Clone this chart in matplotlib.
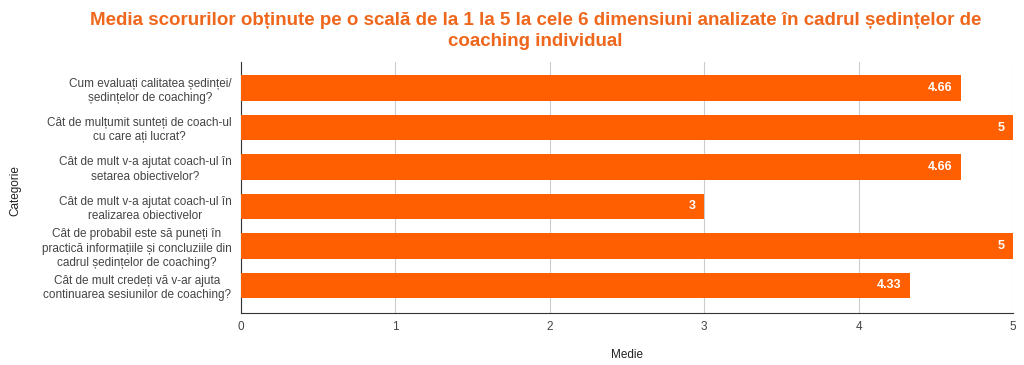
import matplotlib.pyplot as plt
import numpy as np

plt.rcParams['font.family'] = ['Liberation Sans', 'DejaVu Sans']

TITLE = ("Media scorurilor obținute pe o scală de la 1 la 5 la cele 6 dimensiuni "
         "analizate în cadrul ședințelor de\ncoaching individual")

categories = [
    "Cum evaluați calitatea ședinței/\nședințelor de coaching?",
    "Cât de mulțumit sunteți de coach-ul\ncu care ați lucrat?",
    "Cât de mult v-a ajutat coach-ul în\nsetarea obiectivelor?",
    "Cât de mult v-a ajutat coach-ul în\nrealizarea obiectivelor",
    "Cât de probabil este să puneți în\npractică informațiile și concluziile din\ncadrul ședințelor de coaching?",
    "Cât de mult credeți vă v-ar ajuta\ncontinuarea sesiunilor de coaching?",
]
values = [4.66, 5, 4.66, 3, 5, 4.33]
value_labels = ["4.66", "5", "4.66", "3", "5", "4.33"]
x_ticks = [0, 1, 2, 3, 4, 5]

BAR_COLOR = "#FF5F00"
TITLE_COLOR = "#EE671C"
TEXT_COLOR = "#444444"


def main():
    fig = plt.figure(figsize=(10.24, 3.65), dpi=100)
    ax = fig.add_axes([0.2354, 0.1425, 0.7539, 0.6876])

    y = np.arange(len(categories))
    bars = ax.barh(y, values, height=0.645, color=BAR_COLOR, zorder=3)

    # value labels inside the bar end
    for bar, lab in zip(bars, value_labels):
        ax.annotate(lab, (bar.get_width(), bar.get_y() + bar.get_height() / 2),
                    xytext=(-6, 0), textcoords="offset points",
                    ha="right", va="center", color="white",
                    fontsize=9, fontweight="bold", zorder=4)

    ax.set_xlim(0, 5)
    ax.set_ylim(5.7, -0.66)
    ax.set_xticks(x_ticks)
    ax.set_yticks(y)
    ax.set_yticklabels(categories, fontsize=8.5, color=TEXT_COLOR,
                       multialignment="center", linespacing=1.25)
    ax.tick_params(axis="x", labelsize=8.5, labelcolor=TEXT_COLOR, length=0, pad=6)
    ax.tick_params(axis="y", length=0, pad=7)

    ax.grid(axis="x", color="#cccccc", linewidth=0.8, zorder=0)
    for side in ("top", "right"):
        ax.spines[side].set_visible(False)
    ax.spines["left"].set_color("#333333")
    ax.spines["bottom"].set_color("#333333")

    ax.set_xlabel("Medie", fontsize=8.5, color="#222222", labelpad=11)
    fig.text(0.0146, 0.477, "Categorie", rotation=90, ha="center", va="center",
             fontsize=8.5, color="#222222")

    fig.suptitle(TITLE, x=0.523, y=0.968, fontsize=13.5, fontweight="bold",
                 color=TITLE_COLOR, linespacing=1.3, va="top")

    fig.savefig("out.png", dpi=100)


if __name__ == '__main__':
    main()
